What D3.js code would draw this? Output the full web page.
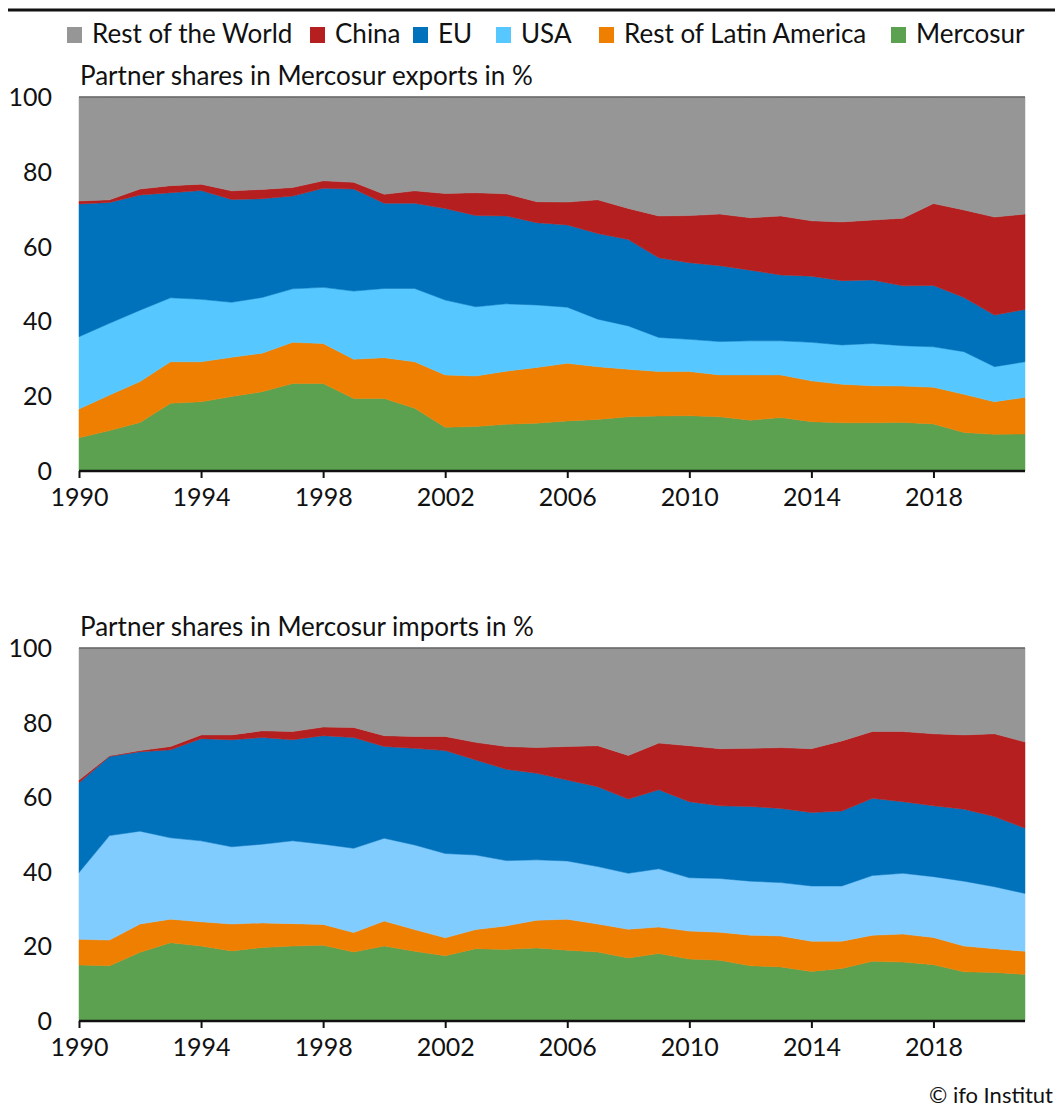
<!DOCTYPE html>
<html>
<head>
<meta charset="utf-8">
<script src="https://cdn.jsdelivr.net/npm/d3@7"></script>
<style>
body{margin:0;background:#fff;}
text{font-family:Lato,"Open Sans",sans-serif;fill:#111;}
</style>
</head>
<body>
<div id="chart"></div>
<script>
//Years and series (shares in %)
var years = d3.range(1990,2022);
var keys = ['Mercosur','Rest of Latin America','USA','EU','China','Rest of the World'];
var legendOrder = ['Rest of the World','China','EU','USA','Rest of Latin America','Mercosur'];
var legendX = [67,310,413,496,599,891];

var expMercosur = [8.9,10.8,13.0,18.1,18.5,19.9,21.2,23.4,23.4,19.4,19.4,16.8,11.7,11.9,12.5,12.8,13.4,13.8,14.5,14.7,14.8,14.5,13.6,14.3,13.2,12.9,12.9,13.0,12.6,10.3,9.8,9.9];
var expLatAm = [7.7,9.5,10.9,11.1,10.7,10.5,10.3,11.0,10.7,10.5,10.9,12.4,14.0,13.5,14.2,14.9,15.4,14.1,12.7,11.9,11.8,11.2,12.1,11.4,10.9,10.3,9.9,9.7,9.8,10.2,8.7,9.8];
var expUSA = [19.3,19.2,19.1,17.1,16.7,14.7,14.9,14.3,15.0,18.2,18.5,19.6,20.0,18.5,18.0,16.7,15.0,12.7,11.6,9.1,8.6,8.9,9.1,9.1,10.3,10.5,11.3,10.8,10.8,11.4,9.4,9.5];
var expEU = [35.5,32.3,30.8,28.1,29.1,27.5,26.4,24.8,26.5,27.3,22.8,22.8,24.5,24.4,23.5,22.0,22.0,22.9,23.1,21.3,20.5,20.3,18.9,17.6,17.7,17.2,17.0,16.0,16.4,14.5,13.8,14.0];
var expChina = [0.8,0.7,1.6,1.9,1.7,2.3,2.5,2.3,2.0,1.8,2.4,3.3,4.0,6.1,5.9,5.6,6.1,9.0,8.3,11.2,12.6,13.8,14.0,15.8,14.8,15.7,16.0,18.1,21.9,23.4,26.2,25.5];
var expRest = [27.8,27.5,24.6,23.7,23.3,25.1,24.7,24.2,22.4,22.8,26.0,25.1,25.8,25.6,25.9,28.0,28.1,27.5,29.8,31.8,31.7,31.3,32.3,31.8,33.1,33.4,32.9,32.4,28.5,30.2,32.1,31.3];

var impMercosur = [15.0,14.8,18.4,21.0,20.1,18.8,19.7,20.1,20.3,18.5,20.1,18.7,17.5,19.4,19.2,19.6,19.0,18.5,16.9,18.1,16.6,16.3,14.8,14.5,13.3,14.1,16.0,15.8,15.1,13.2,13.0,12.5];
var impLatAm = [6.9,6.9,7.6,6.3,6.5,7.2,6.6,6.0,5.6,5.2,6.7,5.8,4.8,5.1,6.3,7.4,8.3,7.5,7.7,7.1,7.5,7.5,8.2,8.3,8.1,7.3,7.0,7.5,7.3,6.9,6.4,6.2];
var impUSA = [17.9,28.0,24.9,21.8,21.7,20.7,21.1,22.2,21.5,22.6,22.2,22.7,22.6,20.0,17.5,16.2,15.6,15.4,15.0,15.6,14.3,14.4,14.5,14.3,14.8,14.8,16.0,16.3,16.3,17.4,16.6,15.5];
var impEU = [24.1,21.2,21.3,23.6,27.4,28.7,28.6,27.1,29.1,29.7,24.6,25.9,27.6,25.5,24.5,23.2,21.7,21.4,19.9,21.2,20.4,19.5,20.0,19.9,19.7,20.1,20.7,19.2,19.0,19.3,18.8,17.5];
var impChina = [0.7,0.2,0.3,0.9,1.0,1.3,1.8,2.2,2.3,2.7,2.9,3.2,3.8,4.7,6.1,6.9,9.0,11.0,11.7,12.5,15.0,15.3,15.6,16.3,17.1,18.8,17.9,18.8,19.3,19.9,22.2,23.1];
var impRest = [35.4,28.9,27.5,26.4,23.3,23.3,22.2,22.4,21.2,21.3,23.5,23.7,23.7,25.3,26.4,26.7,26.4,26.2,28.8,25.5,26.2,27.0,26.9,26.7,27.0,24.9,22.4,22.4,23.0,23.3,23.0,25.2];

var yTicks = [0,20,40,60,80,100];
var xTicks = [1990,1994,1998,2002,2006,2010,2014,2018];

var colors = {
	'Rest of the World':'#969696',
	'China':'#B51F1F',
	'EU':'#0072BC',
	'USA':'#56C8FF',
	'Rest of Latin America':'#EF7F00',
	'Mercosur':'#5BA150'
};

function buildRows(series){
	return years.map(function(y,i){
		var row = {year:y};
		keys.forEach(function(k,j){ row[k] = series[j][i]; });
		return row;
	});
}

var exportRows = buildRows([expMercosur,expLatAm,expUSA,expEU,expChina,expRest]);
var importRows = buildRows([impMercosur,impLatAm,impUSA,impEU,impChina,impRest]);

var W = 1055, H = 1109;
var svg = d3.select('#chart').append('svg').attr('width',W).attr('height',H);

//top rule
svg.append('line').attr('x1',8).attr('x2',W).attr('y1',10).attr('y2',10)
	.style('stroke','#111').style('stroke-width',3);

//legend
legendOrder.forEach(function(k,i){
	var lx = legendX[i];
	svg.append('rect').attr('x',lx).attr('y',27).attr('width',15).attr('height',16).style('fill',colors[k]);
	svg.append('text').attr('x',lx+25).attr('y',43).style('font-size','26px').text(k);
});

var x = d3.scaleLinear().domain([1990,2021]).range([79,1025]);

function drawPanel(rows,top,bottom,title,usaColor){
	var y = d3.scaleLinear().domain([0,100]).range([bottom,top]);
	var stack = d3.stack().keys(keys)(rows);
	var area = d3.area()
		.x(function(d){return x(d.data.year)})
		.y0(function(d){return y(d[0])})
		.y1(function(d){return y(d[1])});

	var g = svg.append('g');
	g.selectAll('path.layer').data(stack).enter().append('path')
		.attr('class','layer')
		.attr('d',area)
		.style('fill',function(d){return d.key==='USA'?usaColor:colors[d.key]})
		.style('stroke',function(d){return d.key==='USA'?usaColor:colors[d.key]})
		.style('stroke-width',0.5);

	//top line at 100
	g.append('line').attr('x1',x(1990)).attr('x2',x(2021)).attr('y1',y(100)).attr('y2',y(100))
		.style('stroke','#666').style('stroke-width',1.5);

	//x axis
	var xAxis = d3.axisBottom(x).tickValues(xTicks).tickFormat(d3.format('d')).tickSize(7).tickPadding(10);
	var ax = g.append('g').attr('transform','translate(0,'+bottom+')').call(xAxis);
	ax.select('.domain').style('stroke','#111').style('stroke-width',2.5)
		.attr('d','M'+x(1990)+',0H'+x(2021));
	ax.selectAll('.tick line').style('stroke','#111').style('stroke-width',2);
	ax.selectAll('.tick text').style('font-size','25px').style('fill','#111')
		.style('font-family','Lato,"Open Sans",sans-serif');

	//y labels
	g.selectAll('text.ylab').data(yTicks).enter().append('text')
		.attr('class','ylab')
		.attr('x',52)
		.attr('y',function(d){return y(d)+9})
		.attr('text-anchor','end')
		.style('font-size','25px')
		.text(function(d){return d});

	svg.append('text').attr('x',80).attr('y',top-12).style('font-size','26px').text(title);
}

drawPanel(exportRows,97,471,'Partner shares in Mercosur exports in %','#56C8FF');
drawPanel(importRows,648,1021,'Partner shares in Mercosur imports in %','#80CCFF');

svg.append('text').attr('x',1053).attr('y',1103).attr('text-anchor','end')
	.style('font-size','22px').text('\u00A9 ifo Institut');
</script>
</body>
</html>
